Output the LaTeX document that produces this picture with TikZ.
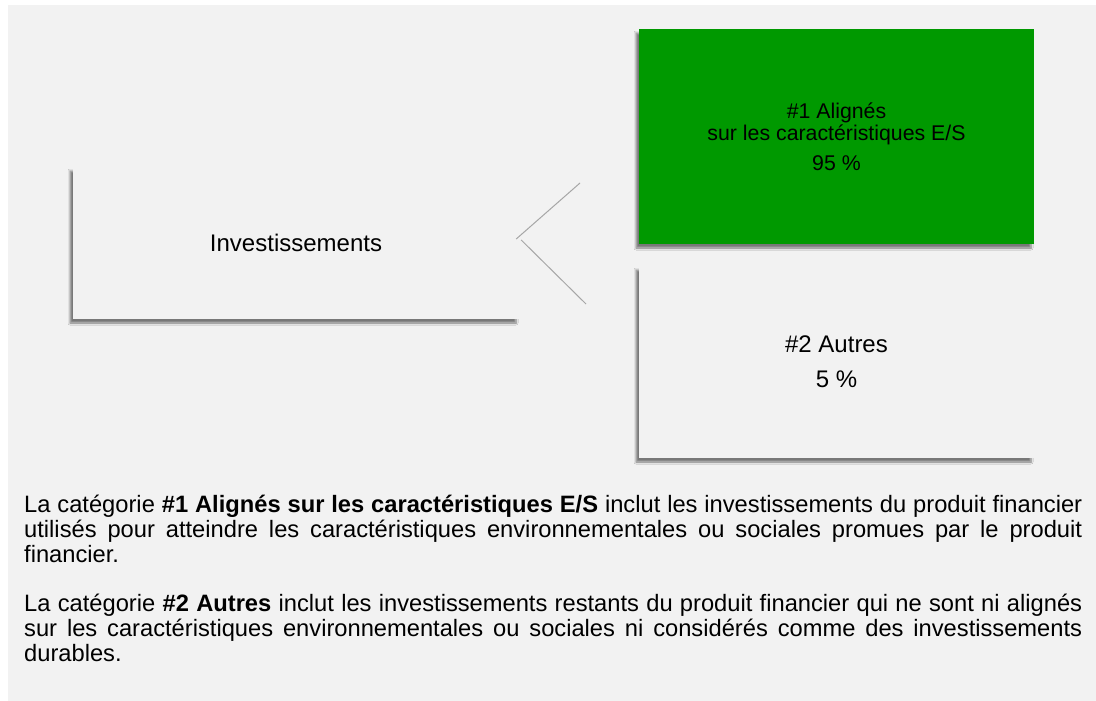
\documentclass[tikz,border=0pt]{standalone}
\usepackage{fontspec}
\setmainfont{Liberation Sans}
\usetikzlibrary{shadows.blur}
\definecolor{bggray}{HTML}{F2F2F2}
\definecolor{boxgreen}{HTML}{009900}
\definecolor{conngray}{HTML}{A6A6A6}
\begin{document}
\begin{tikzpicture}[x=1pt,y=1pt,
  box/.style={rectangle, inner sep=0pt, align=center, text=black,
    blur shadow={shadow xshift=-3pt, shadow yshift=-4pt, shadow blur steps=6, shadow blur radius=2pt, shadow opacity=50}},
  conn/.style={draw=conngray, line width=1pt},
  para/.style={anchor=base west, inner sep=0pt}
]
\useasboundingbox (0,0) rectangle (1096,-701);
\fill[bggray] (8,-5) rectangle (1096,-701);

\node[box, fill=bggray, minimum width=446pt, minimum height=152pt,
  font=\fontsize{24}{28}\selectfont] (inv) at (296,-243) {Investissements};

\node[box, fill=boxgreen, minimum width=395pt, minimum height=215pt,
  font=\fontsize{21.3}{22}\selectfont] (al) at (836.5,-136.5)
  {\#1 Alignés\\sur les caractéristiques E/S\\[8pt]95~\%};

\node[box, fill=bggray, minimum width=395pt, minimum height=192pt,
  font=\fontsize{24}{35}\selectfont] (au) at (836.5,-362)
  {\#2 Autres\\5~\%};

\coordinate (t1) at (580,-183);
\coordinate (t2) at (586,-304);
\draw[conn] ([xshift=-3pt,yshift=4pt]inv.east) -- (t1);
\draw[conn] ([xshift=2pt,yshift=3pt]inv.east) -- (t2);

\node[para] (p1) at (24,-512) {\begin{minipage}[t]{1058pt}\fontsize{23.7}{25}\selectfont
La catégorie \textbf{\#1 Alignés sur les caractéristiques E/S} inclut les investissements du produit financier\linebreak
utilisés pour atteindre les caractéristiques environnementales ou sociales promues par le produit\linebreak
financier.\end{minipage}};

\node[para] (p2) at (24,-611) {\begin{minipage}[t]{1058pt}\fontsize{23.7}{25}\selectfont
La catégorie \textbf{\#2 Autres} inclut les investissements restants du produit financier qui ne sont ni alignés\linebreak
sur les caractéristiques environnementales ou sociales ni considérés comme des investissements\linebreak
durables.\end{minipage}};
\end{tikzpicture}
\end{document}
